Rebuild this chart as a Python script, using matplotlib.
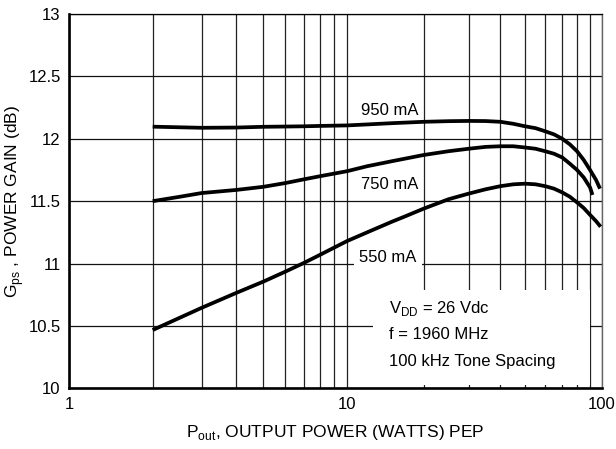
import matplotlib

matplotlib.use("Agg")
import matplotlib.pyplot as plt
import numpy as np
from matplotlib.patches import Rectangle
from matplotlib.ticker import FixedLocator, NullFormatter

plt.rcParams["font.family"] = ["Liberation Sans", "DejaVu Sans"]
plt.rcParams["mathtext.fontset"] = "custom"
plt.rcParams["mathtext.rm"] = "Liberation Sans"

# data
p_950 = [2, 2.5, 3, 4, 5, 6, 7, 8, 10, 12, 15, 20, 25, 30, 35, 40, 45, 50, 55, 60,
         65, 70, 75, 80, 85, 90, 95, 98.5]
g_950 = [12.097, 12.092, 12.088, 12.09, 12.096, 12.098, 12.10, 12.103, 12.107, 12.115,
         12.125, 12.136, 12.141, 12.143, 12.142, 12.136, 12.12, 12.10, 12.085, 12.06,
         12.035, 12.00, 11.955, 11.90, 11.83, 11.75, 11.67, 11.60]
p_750 = [2, 2.5, 3, 4, 5, 6, 7, 8, 10, 12, 15, 20, 25, 30, 35, 40, 45, 50, 55, 60,
         65, 70, 75, 80, 85, 90, 92]
g_750 = [11.50, 11.535, 11.565, 11.59, 11.615, 11.645, 11.675, 11.70, 11.74, 11.78,
         11.82, 11.87, 11.90, 11.92, 11.935, 11.94, 11.94, 11.93, 11.92, 11.90,
         11.88, 11.85, 11.80, 11.75, 11.69, 11.61, 11.55]
p_550 = [2, 2.5, 3, 4, 5, 6, 7, 8, 10, 12, 15, 17, 20, 25, 30, 35, 40, 45, 50, 55,
         60, 65, 70, 75, 80, 85, 90, 95, 99]
g_550 = [10.467, 10.565, 10.645, 10.765, 10.855, 10.935, 11.005, 11.07, 11.18, 11.25,
         11.335, 11.38, 11.44, 11.515, 11.56, 11.595, 11.62, 11.635, 11.64, 11.635,
         11.62, 11.60, 11.57, 11.535, 11.49, 11.445, 11.39, 11.34, 11.295]

x_ticks = [1, 10, 100]
x_minor = [2, 3, 4, 5, 6, 7, 8, 9, 20, 30, 40, 50, 60, 70, 80, 90]
y_ticks = [10, 10.5, 11, 11.5, 12, 12.5, 13]
y_labels = ["10", "10.5", "11", "11.5", "12", "12.5", "13"]

# the printed log axis has a slightly wider first decade
A = 278 / 266.35
B = 2 - A


def fwd(x):
    t = np.log10(np.clip(x, 1e-9, None))
    return np.where(t <= 1, t * A, A + (t - 1) * B)


def inv(u):
    return np.where(u <= A, 10 ** (u / A), 10 ** (1 + (u - A) / B))


fig, ax = plt.subplots(figsize=(6.16, 4.49), dpi=100)
fig.subplots_adjust(left=0.112, right=0.9768, bottom=0.1352, top=0.9688)

ax.set_xscale("function", functions=(fwd, inv))
ax.set_xlim(1, 100)
ax.set_ylim(10, 13)

for p, g in [(p_950, g_950), (p_750, g_750), (p_550, g_550)]:
    ax.plot(p, g, color="black", lw=2.7, solid_joinstyle="round",
            solid_capstyle="butt", zorder=5)

ax.xaxis.set_major_locator(FixedLocator(x_ticks))
ax.xaxis.set_minor_locator(FixedLocator(x_minor))
ax.xaxis.set_minor_formatter(NullFormatter())
ax.set_xticklabels([str(v) for v in x_ticks])
ax.set_yticks(y_ticks)
ax.set_yticklabels(y_labels)
ax.tick_params(which="both", length=0, labelsize=12)
ax.tick_params(axis="y", pad=6)
ax.tick_params(axis="x", pad=6)

ax.set_axisbelow(True)
ax.grid(which="both", axis="x", color="#222222", lw=0.9)
ax.grid(which="major", axis="y", color="#111111", lw=0.9)

ax.spines["left"].set_linewidth(1.9)
ax.spines["bottom"].set_linewidth(1.9)
ax.spines["top"].set_linewidth(0.9)
ax.spines["right"].set_linewidth(1.0)
ax.spines["right"].set_color("#666666")

lbl_box = dict(boxstyle="square,pad=0.3", facecolor="white", edgecolor="none")
ax.text(14.7, 12.23, "950 mA", ha="center", va="center", fontsize=12, bbox=lbl_box, zorder=3)
ax.text(14.7, 11.63, "750 mA", ha="center", va="center", fontsize=12, bbox=lbl_box, zorder=3)
ax.text(14.5, 11.045, "550 mA", ha="center", va="center", fontsize=12, bbox=lbl_box, zorder=3)

ax.add_patch(Rectangle((0.571, 0.009), 0.407, 0.254, transform=ax.transAxes,
                       facecolor="white", edgecolor="none", zorder=3))
ax.text(0.600, 0.212, r"V$_{\mathrm{DD}}$ = 26 Vdc", transform=ax.transAxes,
        fontsize=12, va="center", ha="left", zorder=4)
ax.text(0.600, 0.143, "f = 1960 MHz", transform=ax.transAxes,
        fontsize=12, va="center", ha="left", zorder=4)
ax.text(0.600, 0.072, "100 kHz Tone Spacing", transform=ax.transAxes,
        fontsize=12, va="center", ha="left", zorder=4)

ax.set_xlabel(r"P$_{\mathrm{out}}$, OUTPUT POWER (WATTS) PEP", fontsize=12.5, labelpad=8)
ax.set_ylabel(r"G$_{\mathrm{ps}}$ , POWER GAIN (dB)", fontsize=12.5)
ax.yaxis.set_label_coords(-0.08, 0.5)

plt.savefig("out.png", dpi=100)
plt.close()
